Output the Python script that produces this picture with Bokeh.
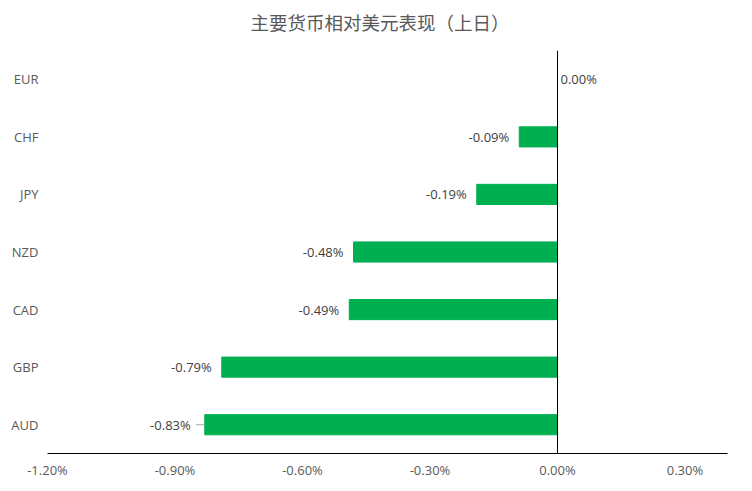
from bokeh.plotting import figure
from bokeh.models import (ColumnDataSource, FixedTicker, PrintfTickFormatter,
                          Span, Title, LabelSet)
from bokeh.core.properties import value
from bokeh.embed import file_html
from bokeh.resources import INLINE

# currency moves vs USD, percent (previous day)
currencies = ["AUD", "GBP", "CAD", "NZD", "JPY", "CHF", "EUR"]
changes = [-0.83, -0.79, -0.49, -0.48, -0.19, -0.09, 0.00]
labels = ["%.2f%%" % v for v in changes]
x_ticks = [-1.2, -0.9, -0.6, -0.3, 0.0, 0.3]
title_text = "主要货币相对美元表现（上日）"

GREEN = "#00B050"
GREY = "#595959"
FONT = "Open Sans"

src = ColumnDataSource(dict(cur=currencies, val=changes))

p = figure(width=736, height=483, y_range=currencies, x_range=(-1.2, 0.4),
           output_backend="svg", toolbar_location=None,
           min_border_left=47, min_border_right=9,
           min_border_top=50, min_border_bottom=30)

# blank spacer next to the frame, then the real title above it
p.add_layout(Title(text=" ", text_font_size="1px", standoff=9), "above")
p.add_layout(Title(text=title_text, align="left",
                   text_font="Noto Sans CJK SC", text_font_size="18.5px",
                   text_font_style="normal", text_color=GREY,
                   standoff=8, offset=203), "above")

p.hbar(y="cur", left=0, right="val", height=0.35, color=GREEN, source=src)

# zero line
p.add_layout(Span(location=0, dimension="height", line_color="black", line_width=1))

# data labels (AUD label sits a bit further out with a leader line)
neg = [v < 0 for v in changes]
lab_src = ColumnDataSource(dict(
    cur=[c for c, n in zip(currencies, neg) if n],
    val=[v for v, n in zip(changes, neg) if n],
    lab=[l for l, n in zip(labels, neg) if n],
    off=[-14 if c == "AUD" else -10 for c, n in zip(currencies, neg) if n],
))
p.add_layout(LabelSet(x="val", y="cur", text="lab", source=lab_src,
                      x_offset="off", text_align="right", text_baseline="middle",
                      text_font=value(FONT), text_font_size="13px",
                      text_color="#404040"))
pos_src = ColumnDataSource(dict(
    cur=[c for c, n in zip(currencies, neg) if not n],
    val=[v for v, n in zip(changes, neg) if not n],
    lab=[l for l, n in zip(labels, neg) if not n],
))
p.add_layout(LabelSet(x="val", y="cur", text="lab", source=pos_src,
                      x_offset=3, text_align="left", text_baseline="middle",
                      text_font=value(FONT), text_font_size="13px",
                      text_color="#404040"))

aud = changes[currencies.index("AUD")]
p.segment(x0=[aud - 0.02], x1=[aud], y0=["AUD"], y1=["AUD"],
          line_color="#A6A6A6", line_width=1)

p.xgrid.visible = False
p.ygrid.visible = False
p.outline_line_color = None

p.xaxis.ticker = FixedTicker(ticks=x_ticks)
p.xaxis.formatter = PrintfTickFormatter(format="%.2f%%")
p.xaxis.axis_line_color = "black"
p.xaxis.major_tick_line_color = None
p.xaxis.minor_tick_line_color = None
p.xaxis.major_tick_out = 0
p.xaxis.minor_tick_out = 0
p.xaxis.major_label_text_font = FONT
p.xaxis.major_label_text_font_size = "13px"
p.xaxis.major_label_text_color = GREY
p.xaxis.major_label_standoff = 7

p.yaxis.axis_line_color = None
p.yaxis.major_tick_line_color = None
p.yaxis.minor_tick_line_color = None
p.yaxis.major_tick_out = 0
p.yaxis.minor_tick_out = 0
p.yaxis.major_label_text_font = FONT
p.yaxis.major_label_text_font_size = "13px"
p.yaxis.major_label_text_color = GREY
p.yaxis.major_label_standoff = 9

open("out.html", "w").write(file_html(p, INLINE))
